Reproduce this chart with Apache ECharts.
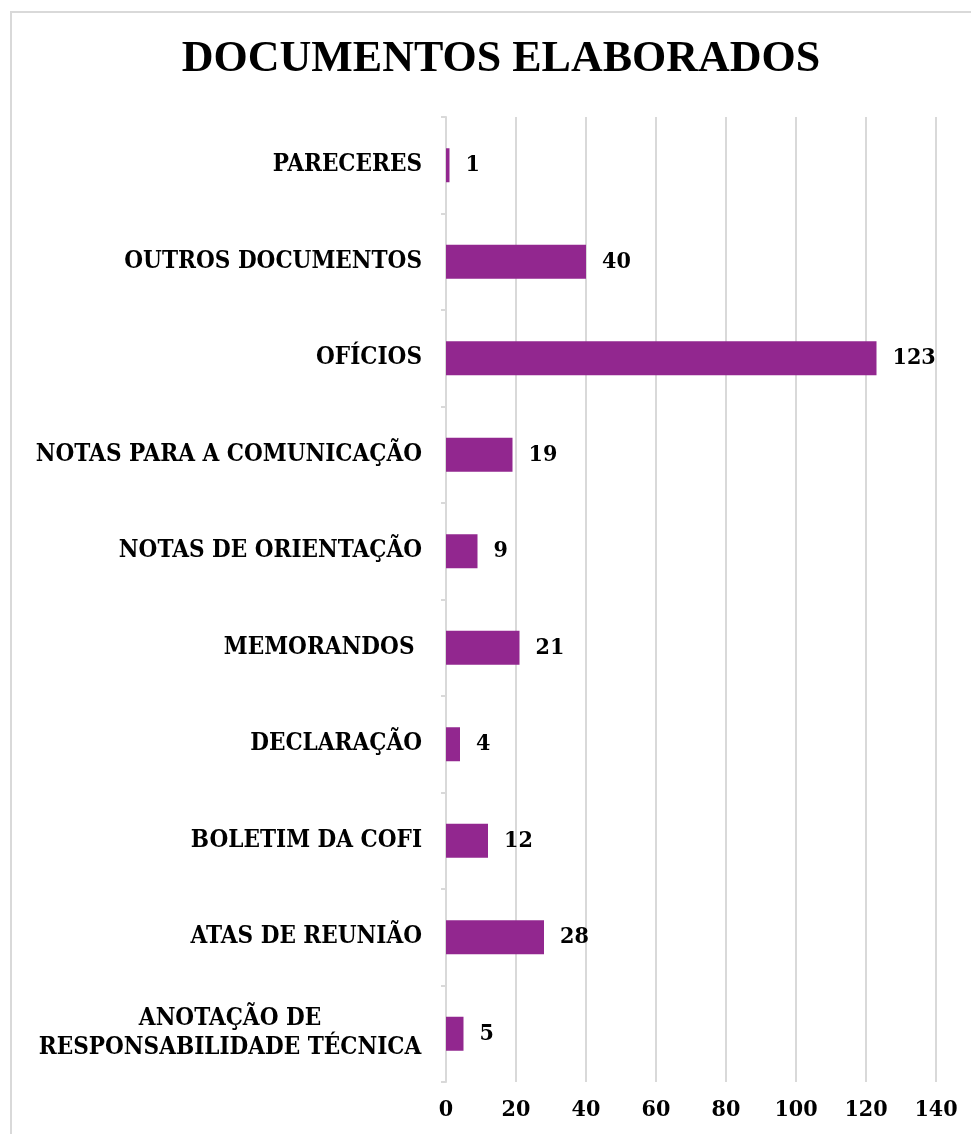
<!DOCTYPE html>
<html lang="pt">
<head>
    <meta charset="UTF-8">
    <title>Documentos elaborados</title>
    <style type="text/css">
        html, body { margin: 0; padding: 0; background: #fff; }
        #documentosChart { width: 971px; height: 1134px; }
    </style>
</head>
<body>
<div id="documentosChart"></div>
<script src="https://cdn.jsdelivr.net/npm/echarts@6/dist/echarts.min.js"></script>
<script type="text/javascript">
    // categorias (de baixo para cima, como o eixo de categorias desenha)
    var categorias = ['ANOTAÇÃO DE\nRESPONSABILIDADE TÉCNICA', 'ATAS DE REUNIÃO', 'BOLETIM DA COFI',
        'DECLARAÇÃO', 'MEMORANDOS ', 'NOTAS DE ORIENTAÇÃO', 'NOTAS PARA A COMUNICAÇÃO',
        'OFÍCIOS', 'OUTROS DOCUMENTOS', 'PARECERES'];
    var quantidades = [5, 28, 12, 4, 21, 9, 19, 123, 40, 1];
    var ticksEixo = [0, 20, 40, 60, 80, 100, 120, 140];

    var fonteSerif = '"DejaVu Serif Condensed", "DejaVu Serif", "Liberation Serif", serif';

    var documentosChart = echarts.init(document.getElementById('documentosChart'));

    var documentosOption = {
        animation: false,
        graphic: [
            {
                type: 'rect',
                shape: { x: 11, y: 12, width: 980, height: 1140 },
                style: { fill: 'none', stroke: '#d9d9d9', lineWidth: 2 },
                silent: true
            },
            {
                type: 'text',
                x: 501,
                y: 38,
                style: {
                    text: 'DOCUMENTOS ELABORADOS',
                    font: 'bold 44px "Liberation Serif", serif',
                    fill: '#000',
                    textAlign: 'center'
                }
            }
        ],
        grid: {
            left: 446,
            right: 35,
            top: 117,
            bottom: 52
        },
        xAxis: {
            type: 'value',
            min: ticksEixo[0],
            max: ticksEixo[ticksEixo.length - 1],
            interval: 20,
            axisLine: { show: false },
            axisTick: { show: false },
            splitLine: { lineStyle: { color: '#d9d9d9', width: 2 } },
            axisLabel: {
                color: '#000',
                fontFamily: fonteSerif,
                fontWeight: 'bold',
                fontSize: 23,
                margin: 17
            }
        },
        yAxis: {
            type: 'category',
            data: categorias,
            axisLine: { lineStyle: { color: '#d9d9d9', width: 2 } },
            axisTick: { show: true, length: 5, lineStyle: { color: '#d9d9d9', width: 2 } },
            axisLabel: {
                color: '#000',
                fontFamily: fonteSerif,
                fontWeight: 'bold',
                fontSize: 24,
                align: 'right',
                margin: 24,
                formatter: function (v) {
                    if (v.indexOf('\n') < 0) return v;
                    return v.split('\n').map(function (l) { return '{m|' + l + '}'; }).join('\n');
                },
                rich: {
                    m: {
                        width: 384,
                        align: 'center',
                        fontFamily: fonteSerif,
                        fontWeight: 'bold',
                        fontSize: 24,
                        lineHeight: 29,
                        color: '#000'
                    }
                }
            }
        },
        series: [
            {
                type: 'bar',
                data: quantidades,
                barWidth: 34,
                itemStyle: { color: '#92278f' },
                label: {
                    show: true,
                    position: 'right',
                    distance: 16,
                    color: '#000',
                    fontFamily: fonteSerif,
                    fontWeight: 'bold',
                    fontSize: 23
                }
            }
        ]
    };

    documentosChart.setOption(documentosOption);
</script>
</body>
</html>
